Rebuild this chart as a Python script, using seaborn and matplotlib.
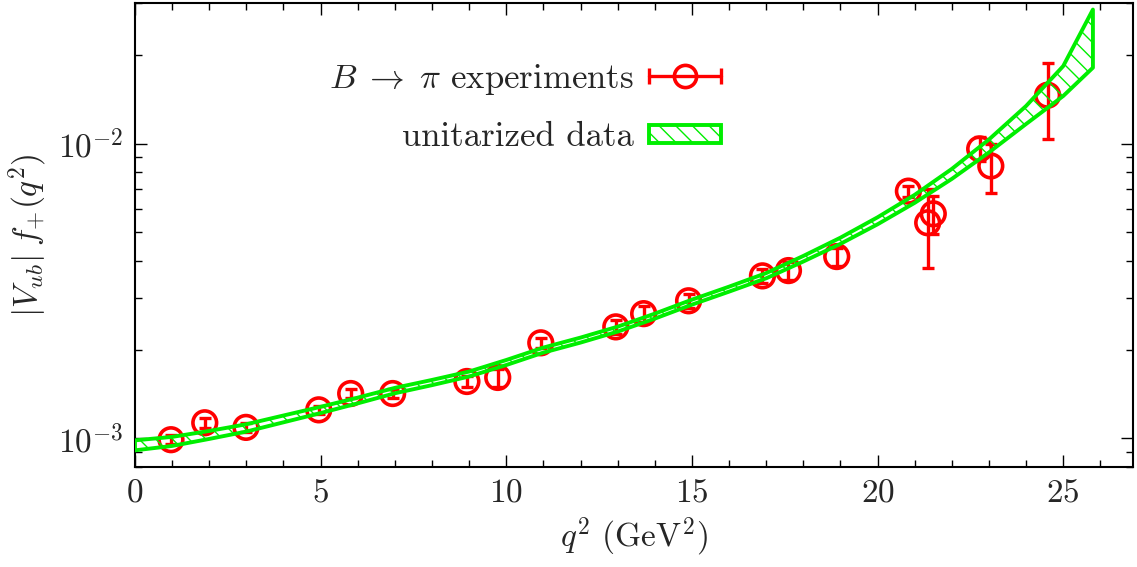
import numpy as np
import pandas as pd
import matplotlib
matplotlib.use("Agg")
import matplotlib.pyplot as plt
import seaborn as sns
from matplotlib.lines import Line2D
from matplotlib.legend_handler import HandlerBase
from matplotlib.ticker import MultipleLocator, LogLocator, FixedLocator, FixedFormatter, NullFormatter

# experimental points: q^2 (GeV^2), |Vub| f+(q^2) in units of 1e-3, error
q2_exp = [0.97, 1.88, 2.99, 4.95, 5.81, 6.94, 8.94, 9.77, 10.93, 12.95, 13.70,
          14.91, 16.90, 17.60, 18.90, 20.83, 21.35, 21.50, 22.75, 23.05, 24.58]
ff_exp = [0.99, 1.13, 1.09, 1.25, 1.42, 1.42, 1.56, 1.61, 2.11, 2.39, 2.65,
          2.93, 3.56, 3.71, 4.14, 6.90, 5.39, 5.78, 9.60, 8.40, 14.6]
err_exp = [0.035, 0.045, 0.04, 0.04, 0.05, 0.05, 0.07, 0.11, 0.08, 0.125, 0.16,
           0.155, 0.19, 0.25, 0.30, 0.30, 1.60, 0.85, 0.90, 1.60, 4.20]

# unitarized band (lower / upper edge), units of 1e-3
band_q2 = [0, 1, 2, 3, 4, 5, 6, 7, 8, 9, 10, 11, 12, 13, 14, 15, 16, 17, 18,
           19, 20, 21, 22, 23, 24, 25, 25.8]
band_lo = [0.911, 0.943, 0.996, 1.055, 1.134, 1.219, 1.315, 1.423, 1.516, 1.622,
           1.774, 1.955, 2.114, 2.303, 2.549, 2.843, 3.147, 3.493, 3.982, 4.571,
           5.326, 6.298, 7.592, 9.337, 11.66, 14.51, 18.1]
band_hi = [0.985, 1.012, 1.060, 1.117, 1.196, 1.280, 1.375, 1.484, 1.579, 1.686,
           1.845, 2.033, 2.198, 2.394, 2.650, 2.956, 3.272, 3.638, 4.159, 4.797,
           5.625, 6.704, 8.209, 10.33, 13.42, 18.33, 28.5]

RED = "#ff0000"
GREEN = "#00ee00"

sns.set_theme(style="ticks")
plt.rcParams.update({
    "font.family": "cmr10",
    "mathtext.fontset": "cm",
    "axes.unicode_minus": False,
    "axes.formatter.use_mathtext": True,
    "hatch.linewidth": 1.0,
    "hatch.color": GREEN,
})

exp = pd.DataFrame({"q2": q2_exp, "ff": np.array(ff_exp) * 1e-3,
                    "err": np.array(err_exp) * 1e-3})
band = pd.DataFrame({"q2": band_q2, "lo": np.array(band_lo) * 1e-3,
                     "hi": np.array(band_hi) * 1e-3})

fig = plt.figure(figsize=(11.37, 5.67), dpi=100)
ax = fig.add_axes([0.1187, 0.1764, 0.8778, 0.8183])

ax.errorbar(exp["q2"], exp["ff"], yerr=exp["err"], fmt="none", ecolor=RED,
            elinewidth=2.4, capsize=4, capthick=2.4, zorder=2)
sns.scatterplot(data=exp, x="q2", y="ff", ax=ax, marker="o", s=290,
                facecolor="none", edgecolor=RED, linewidth=2.6, zorder=3,
                legend=False)
poly = ax.fill_between(band["q2"], band["lo"], band["hi"], facecolor="none",
                       edgecolor=GREEN, hatch="\\\\", linewidth=2.8, zorder=4)

ax.set_yscale("log")
ax.set_xlim(0, 26.88)
ax.set_ylim(8e-4, 3e-2)

ax.xaxis.set_major_locator(MultipleLocator(5))
ax.xaxis.set_minor_locator(MultipleLocator(1))
ax.yaxis.set_major_locator(FixedLocator([1e-3, 1e-2]))
ax.yaxis.set_major_formatter(FixedFormatter([r"$10^{-3}$", r"$10^{-2}$"]))
ax.yaxis.set_minor_locator(LogLocator(base=10, subs=np.arange(2, 10)))
ax.yaxis.set_minor_formatter(NullFormatter())

ax.tick_params(which="both", direction="in", top=True, right=True,
               labelsize=24, width=1.0, color="black")
ax.tick_params(which="major", length=8.5, pad=8)
ax.tick_params(which="minor", length=5)
for sp in ax.spines.values():
    sp.set_linewidth(1.5)
    sp.set_color("black")

ax.set_xlabel(r"$q^2$ (GeV$^2$)", fontsize=24, labelpad=6)
ax.set_ylabel(r"$|V_{ub}|\;f_{{+}}(q^2)$", fontsize=24, labelpad=6)


class HandlerErrRow(HandlerBase):
    def create_artists(self, legend, orig_handle, xdescent, ydescent,
                       width, height, fontsize, trans):
        y = height / 2 - ydescent
        x0, x1 = -xdescent, width - xdescent
        line = Line2D([x0, x1], [y, y], color=RED, lw=2.4)
        caps = Line2D([x0, x1], [y, y], ls="none", marker="|", ms=11,
                      mew=2.4, color=RED)
        circ = Line2D([(x0 + x1) / 2], [y], ls="none", marker="o", ms=16,
                      mfc="none", mec=RED, mew=2.6)
        for a in (line, caps, circ):
            a.set_transform(trans)
        return [line, caps, circ]


exp_handle = Line2D([], [], color=RED)
leg = ax.legend([exp_handle, poly],
                [r"$B\;\to\;\pi$ experiments", "unitarized data"],
                handler_map={exp_handle: HandlerErrRow()},
                loc="upper right", bbox_to_anchor=(0.612, 0.925),
                frameon=False, markerfirst=False, fontsize=25,
                handlelength=2.1, handleheight=0.43, handletextpad=0.42,
                labelspacing=0.7, borderpad=0.2)

fig.savefig("out.png", dpi=100)
